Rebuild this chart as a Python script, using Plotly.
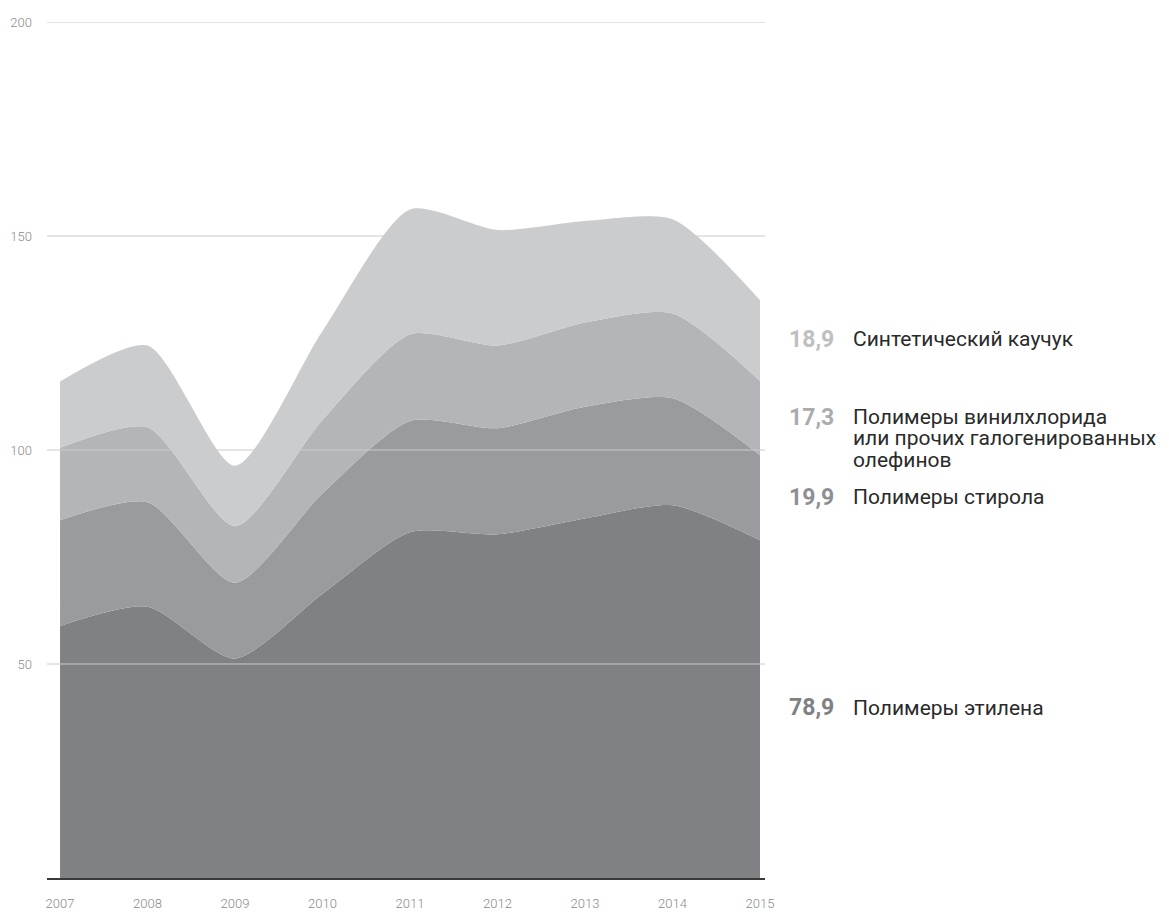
import plotly.graph_objects as go

years = [2007, 2008, 2009, 2010, 2011, 2012, 2013, 2014, 2015]
ethylene = [58.9, 63.4, 51.3, 66.4, 80.8, 80.3, 84.0, 87.1, 78.9]
styrene = [24.7, 24.4, 17.7, 23.5, 26.0, 24.8, 26.1, 25.0, 19.9]
vinyl = [16.9, 17.5, 13.2, 17.1, 20.2, 19.3, 19.7, 19.8, 17.3]
rubber = [15.5, 19.1, 14.1, 20.8, 29.2, 27.0, 23.7, 22.0, 18.9]

series_names = ["Полимеры этилена", "Полимеры стирола",
                "Полимеры винилхлорида<br>или прочих галогенированных<br>олефинов",
                "Синтетический каучук"]
series_values = [ethylene, styrene, vinyl, rubber]
fill_colors = ["#808184", "#9a9b9e", "#b4b5b8", "#cbccce"]
number_colors = ["#808184", "#8f9093", "#aaabad", "#bebfc1"]
label_y = [39.8, 89.0, 107.7, 125.9]
line_step = 5.0  # vertical step between wrapped label lines (data units)

y_ticks = [50, 100, 150, 200]
tick_font = dict(family="Roboto", weight=300, size=13, color="#8a8a8a")

fig = go.Figure()
for name, vals, col in zip(series_names, series_values, fill_colors):
    fig.add_trace(go.Scatter(
        x=years, y=vals, name=name.replace("<br>", " "), stackgroup="one", mode="lines",
        line=dict(width=0, shape="spline", smoothing=0.7, color=col),
        fillcolor=col, hoverinfo="skip", showlegend=False))

# gridlines drawn over the areas
for t in y_ticks:
    fig.add_shape(type="line", xref="paper", yref="y", x0=0, x1=1, y0=t, y1=t,
                  line=dict(color="#cacacc", width=1), layer="above")

for name, vals, ncol, ly in zip(series_names, series_values, number_colors, label_y):
    num = f"{vals[-1]:.1f}".replace(".", ",")
    fig.add_annotation(xref="paper", yref="y", x=1.0989, y=ly, text=f"<b>{num}</b>",
                       showarrow=False, xanchor="right", yanchor="middle",
                       font=dict(family="Roboto", size=23, color=ncol))
    for i, line in enumerate(name.split("<br>")):
        fig.add_annotation(xref="paper", yref="y", x=1.1198, y=ly - i * line_step,
                           text=line, showarrow=False, xanchor="left",
                           yanchor="middle",
                           font=dict(family="Roboto", size=21, color="#2a2a2a"))

fig.update_layout(
    width=1161, height=904,
    margin=dict(l=39, r=404, t=14, b=34, autoexpand=False),
    paper_bgcolor="white", plot_bgcolor="white",
    showlegend=False,
    xaxis=dict(range=[2006.851, 2015.057], tickvals=years, automargin=False,
               ticktext=[str(y) for y in years], showgrid=False, zeroline=False,
               showline=True, linecolor="#3a3a3a", linewidth=1.5, ticks="",
               ticklabelstandoff=13, layer="above traces", tickfont=tick_font),
    yaxis=dict(range=[0, 200], tickvals=y_ticks, showgrid=False, zeroline=False,
               automargin=False, showline=False, ticks="", ticklabelstandoff=14,
               tickfont=tick_font),
)

fig.write_html("out.html")
